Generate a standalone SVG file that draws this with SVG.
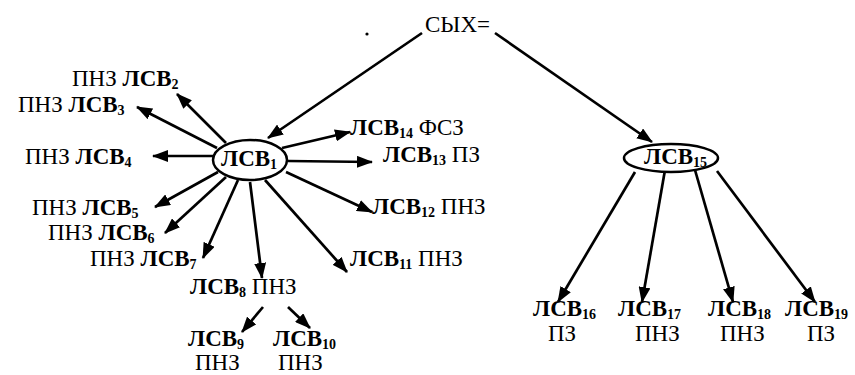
<svg xmlns="http://www.w3.org/2000/svg" width="855" height="375" viewBox="0 0 855 375">
<defs>
<style>
text{font-family:"Liberation Serif","DejaVu Serif","Times New Roman",serif;font-size:23px;fill:#000}
.b{font-weight:bold}
.s{font-weight:bold;font-size:14px}
.e{fill:#fff;stroke:#000;stroke-width:2.5}
.c line{stroke:#000;stroke-width:2.7;marker-end:url(#ah)}
</style>
<marker id="ah" markerUnits="userSpaceOnUse" markerWidth="16" markerHeight="12" refX="15" refY="6" orient="auto">
<path d="M0,0 L16,6 L0,12 z" fill="#000"/>
</marker>
</defs>
<rect width="855" height="375" fill="#fff"/>
<circle cx="367" cy="34" r="1.6" fill="#000"/>
<g id="connectors" class="c">
<line x1="422" y1="33" x2="268" y2="138"/>
<line x1="495" y1="33" x2="652" y2="142"/>
<line x1="226" y1="143" x2="177" y2="94"/>
<line x1="217" y1="148" x2="137" y2="107"/>
<line x1="213" y1="156" x2="153" y2="156"/>
<line x1="218" y1="172" x2="155" y2="207"/>
<line x1="226" y1="177" x2="165" y2="233"/>
<line x1="238" y1="180" x2="203" y2="258"/>
<line x1="250" y1="182" x2="262" y2="278"/>
<line x1="265" y1="180" x2="347" y2="272"/>
<line x1="286" y1="172" x2="372" y2="212"/>
<line x1="288" y1="161" x2="372" y2="162"/>
<line x1="282" y1="148" x2="350" y2="132"/>
<line x1="263" y1="307" x2="242" y2="332"/>
<line x1="288" y1="307" x2="310" y2="328"/>
<line x1="635" y1="172" x2="558" y2="302"/>
<line x1="665" y1="170" x2="642" y2="302"/>
<line x1="695" y1="170" x2="733" y2="302"/>
<line x1="717" y1="171" x2="815" y2="302"/>
</g>
<g id="root"><text x="425" y="32">СЫХ=</text></g>
<g id="lsv1"><ellipse class="e" cx="250" cy="160" rx="37" ry="20"/><text x="221" y="166" class="b">ЛСВ<tspan class="s" dy="3">1</tspan></text></g>
<g id="lsv15"><ellipse class="e" cx="671" cy="158" rx="47" ry="14"/><text x="644" y="164" class="b">ЛСВ<tspan class="s" dy="3">15</tspan></text></g>
<g id="lsv2"><text x="72" y="86">ПНЗ <tspan class="b">ЛСВ</tspan><tspan class="s" dy="3">2</tspan></text></g>
<g id="lsv3"><text x="18" y="112">ПНЗ <tspan class="b">ЛСВ</tspan><tspan class="s" dy="3">3</tspan></text></g>
<g id="lsv4"><text x="25" y="164">ПНЗ <tspan class="b">ЛСВ</tspan><tspan class="s" dy="3">4</tspan></text></g>
<g id="lsv5"><text x="32" y="215">ПНЗ <tspan class="b">ЛСВ</tspan><tspan class="s" dy="3">5</tspan></text></g>
<g id="lsv6"><text x="48" y="240">ПНЗ <tspan class="b">ЛСВ</tspan><tspan class="s" dy="3">6</tspan></text></g>
<g id="lsv7"><text x="90" y="266">ПНЗ <tspan class="b">ЛСВ</tspan><tspan class="s" dy="3">7</tspan></text></g>
<g id="lsv8"><text x="190" y="294"><tspan class="b">ЛСВ</tspan><tspan class="s" dy="3">8</tspan><tspan dy="-3"> ПНЗ</tspan></text></g>
<g id="lsv9"><text x="188" y="346" class="b">ЛСВ<tspan class="s" dy="3">9</tspan></text><text x="195" y="370">ПНЗ</text></g>
<g id="lsv10"><text x="273" y="346" class="b">ЛСВ<tspan class="s" dy="3">10</tspan></text><text x="278" y="370">ПНЗ</text></g>
<g id="lsv11"><text x="350" y="266"><tspan class="b">ЛСВ</tspan><tspan class="s" dy="3">11</tspan><tspan dy="-3"> ПНЗ</tspan></text></g>
<g id="lsv12"><text x="372" y="214"><tspan class="b">ЛСВ</tspan><tspan class="s" dy="3">12</tspan><tspan dy="-3"> ПНЗ</tspan></text></g>
<g id="lsv13"><text x="383" y="162"><tspan class="b">ЛСВ</tspan><tspan class="s" dy="3">13</tspan><tspan dy="-3"> ПЗ</tspan></text></g>
<g id="lsv14"><text x="350" y="135"><tspan class="b">ЛСВ</tspan><tspan class="s" dy="3">14</tspan><tspan dy="-3"> ФСЗ</tspan></text></g>
<g id="lsv16"><text x="533" y="316" class="b">ЛСВ<tspan class="s" dy="3">16</tspan></text><text x="548" y="341">ПЗ</text></g>
<g id="lsv17"><text x="618" y="316" class="b">ЛСВ<tspan class="s" dy="3">17</tspan></text><text x="635" y="341">ПНЗ</text></g>
<g id="lsv18"><text x="708" y="316" class="b">ЛСВ<tspan class="s" dy="3">18</tspan></text><text x="720" y="341">ПНЗ</text></g>
<g id="lsv19"><text x="785" y="316" class="b">ЛСВ<tspan class="s" dy="3">19</tspan></text><text x="807" y="341">ПЗ</text></g>
</svg>
